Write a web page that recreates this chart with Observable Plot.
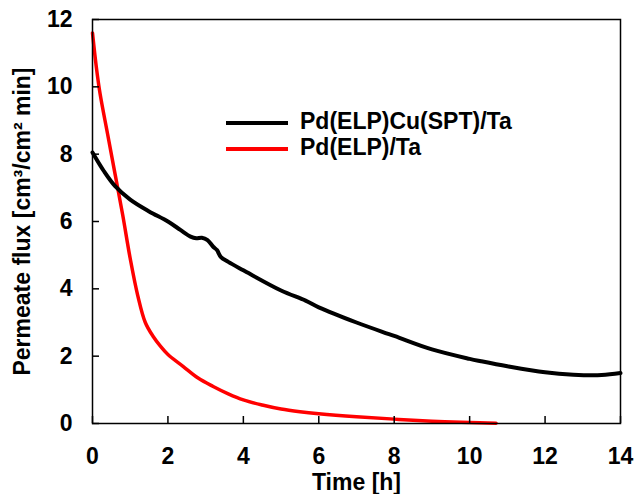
<!DOCTYPE html>
<html><head><meta charset="utf-8">
<script src="https://cdn.jsdelivr.net/npm/d3@7"></script>
<script src="https://cdn.jsdelivr.net/npm/@observablehq/plot@0.6"></script>
<style>
body{margin:0;background:#fff;}
#wrap{position:relative;width:634px;height:494px;font-family:"Liberation Sans",Arial,sans-serif;font-weight:bold;}
.leg{position:absolute;left:226px;height:26px;display:flex;align-items:center;font-size:23px;line-height:26px;color:#000;}
.leg span.sw{display:inline-block;width:62px;height:4px;margin-right:12px;position:relative;top:2px;}
</style></head>
<body><div id="wrap"></div>
<script>
const xTicks = [0, 2, 4, 6, 8, 10, 12, 14];
const yTicks = [0, 2, 4, 6, 8, 10, 12];
const seriesNames = ["Pd(ELP)Cu(SPT)/Ta", "Pd(ELP)/Ta"];
const seriesColors = ["#000000", "#ff0000"];
const xLabel = "Time [h]";
const yLabel = "Permeate flux [cm³/cm² min]";

const cuTime = [0, 0.3, 0.6, 1.0, 1.5, 2.0, 2.33, 2.6, 2.75, 2.9, 3.05, 3.2, 3.3, 3.4, 3.6, 4.0, 5.0, 5.65, 6.0, 7.0, 8.0, 9.0, 10.0, 10.3, 11.0, 12.0, 12.75, 13.5, 14.0];
const cuFlux = [8.05, 7.5, 7.05, 6.65, 6.3, 6.0, 5.75, 5.55, 5.5, 5.52, 5.45, 5.25, 5.15, 4.95, 4.8, 4.55, 3.95, 3.65, 3.45, 3.0, 2.6, 2.2, 1.92, 1.85, 1.7, 1.52, 1.45, 1.44, 1.5];

const pdTime = [0, 0.1, 0.2, 0.4, 0.6, 0.8, 1.0, 1.2, 1.4, 1.6, 1.8, 2.0, 2.4, 2.8, 3.2, 3.6, 4.0, 4.5, 5.0, 5.5, 6.0, 7.0, 8.0, 9.0, 10.0, 10.7];
const pdFlux = [11.6, 10.6, 9.8, 8.6, 7.4, 6.2, 4.9, 3.8, 3.0, 2.6, 2.3, 2.05, 1.7, 1.35, 1.1, 0.88, 0.7, 0.55, 0.43, 0.35, 0.29, 0.2, 0.13, 0.07, 0.03, 0.01];

const cuData = cuTime.map((t, i) => ({t, f: cuFlux[i]}));
const pdData = pdTime.map((t, i) => ({t, f: pdFlux[i]}));

const W = 634, H = 494, mL = 92, mR = 14, mT = 19, mB = 71;
const pw = W - mL - mR, ph = H - mT - mB;
const xMax = 14, yMax = 12, tickLen = 7;

const chart = Plot.plot({
  width: W, height: H,
  marginLeft: mL, marginRight: mR, marginTop: mT, marginBottom: mB,
  style: {fontFamily: "Liberation Sans, Arial, sans-serif", fontWeight: "bold", color: "#000", background: "#fff"},
  x: {domain: [0, xMax]},
  y: {domain: [0, yMax]},
  marks: [
    Plot.line(pdData, {x: "t", y: "f", stroke: seriesColors[1], strokeWidth: 3.5, curve: "catmull-rom"}),
    Plot.line(cuData, {x: "t", y: "f", stroke: seriesColors[0], strokeWidth: 4, curve: "catmull-rom"}),
    Plot.ruleX(xTicks, {x: d => d, y1: 0, y2: tickLen * yMax / ph, stroke: "#000", strokeWidth: 1.5}),
    Plot.ruleY(yTicks, {y: d => d, x1: 0, x2: tickLen * xMax / pw, stroke: "#000", strokeWidth: 1.5}),
    Plot.frame({stroke: "#000", strokeWidth: 1.5}),
    Plot.axisX(xTicks, {tickSize: 0, tickPadding: 24, fontSize: 23, fontWeight: "bold", label: null}),
    Plot.axisY(yTicks, {tickSize: 0, tickPadding: 20, fontSize: 23, fontWeight: "bold", label: null}),
    Plot.text([xLabel], {frameAnchor: "bottom", dy: 66, fontSize: 23, fontWeight: "bold", fill: "#000"}),
    Plot.text([yLabel], {frameAnchor: "left", dx: -70, rotate: -90, textAnchor: "middle", fontSize: 23, fontWeight: "bold", fill: "#000"})
  ]
});

const wrap = document.getElementById("wrap");
wrap.appendChild(chart);
seriesNames.forEach((name, i) => {
  const d = document.createElement("div");
  d.className = "leg";
  d.style.top = (108 + i * 26) + "px";
  const sw = document.createElement("span");
  sw.className = "sw";
  sw.style.background = seriesColors[i];
  d.appendChild(sw);
  const tx = document.createElement("span");
  tx.textContent = name;
  d.appendChild(tx);
  wrap.appendChild(d);
});
</script></body></html>
